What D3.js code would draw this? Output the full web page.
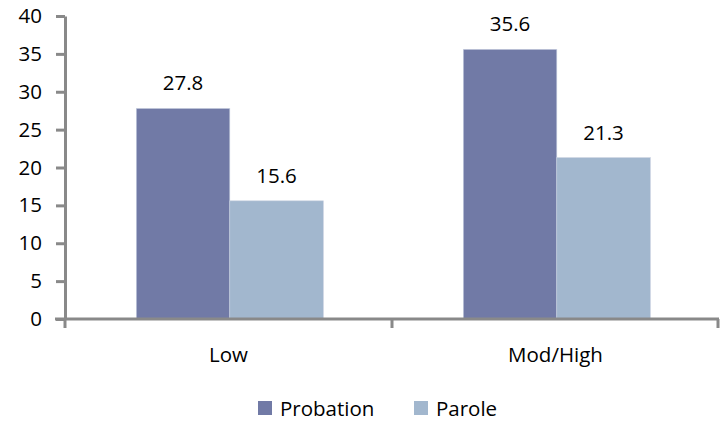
<!DOCTYPE html>
<html>
<head>
<meta charset="utf-8">
<script src="https://cdn.jsdelivr.net/npm/d3@7"></script>
<style>
	body { margin: 0; background: #fff; }
	text { font-family: "Open Sans", sans-serif; fill: #000; }
</style>
</head>
<body>
<div id="chart"></div>
<script>
var categories = ["Low", "Mod/High"];
var seriesNames = ["Probation", "Parole"];
var probation = [27.8, 35.6];
var parole = [15.6, 21.3];
var yTicks = [0, 5, 10, 15, 20, 25, 30, 35, 40];

var colors = { Probation: "#717aa6", Parole: "#a2b7ce" };
var width = 722, height = 421;
var margin = { left: 65, right: 3, top: 16, bottom: 101 };
var fontSize = "20.5px";

var svg = d3.select("#chart").append("svg")
	.attr("width", width)
	.attr("height", height);

var rows = categories.map(function(c, i){
	return { cat: c, values: [
		{ name: "Probation", value: probation[i] },
		{ name: "Parole", value: parole[i] }
	] };
});

var x0 = d3.scaleBand()
	.domain(categories)
	.range([margin.left, width - margin.right]);

var bw = x0.bandwidth();
var x1 = d3.scaleBand()
	.domain(seriesNames)
	.range([bw * 0.218, bw * 0.79]);

var y = d3.scaleLinear()
	.domain([0, 40])
	.range([height - margin.bottom - 1, margin.top]);

// bars
var groups = svg.append("g")
		.selectAll("g")
		.data(rows)
	.enter().append("g")
		.attr("transform", function(d){ return "translate(" + x0(d.cat) + ",0)"; });

groups.selectAll("rect")
		.data(function(d){ return d.values; })
	.enter().append("rect")
		.attr("x", function(d){ return x1(d.name); })
		.attr("y", function(d){ return y(d.value); })
		.attr("width", x1.bandwidth())
		.attr("height", function(d){ return y(0) - y(d.value); })
		.style("fill", function(d){ return colors[d.name]; })
		.style("stroke", "#c8d0e0")
		.style("stroke-width", 0.6);

groups.selectAll("text.val")
		.data(function(d){ return d.values; })
	.enter().append("text")
		.attr("class", "val")
		.attr("x", function(d){ return x1(d.name) + x1.bandwidth() / 2; })
		.attr("y", function(d){ return y(d.value) - 18; })
		.attr("text-anchor", "middle")
		.style("font-size", fontSize)
		.text(function(d){ return d.value.toFixed(1); });

// y axis
var yAxis = svg.append("g")
	.attr("transform", "translate(" + margin.left + ",0)")
	.call(d3.axisLeft(y).tickValues(yTicks).tickSize(9).tickPadding(14).tickSizeOuter(0));

yAxis.select(".domain").attr("stroke", "#898989").attr("stroke-width", 3);
yAxis.selectAll(".tick line").attr("stroke", "#898989").attr("stroke-width", 3);
yAxis.selectAll(".tick text").style("font-size", fontSize).attr("font-family", null);

// x axis
var xAxis = svg.append("g")
	.attr("transform", "translate(0," + y(0) + ")");

xAxis.append("line")
	.attr("x1", margin.left - 10)
	.attr("x2", width - margin.right)
	.attr("stroke", "#898989")
	.attr("stroke-width", 3);

xAxis.selectAll("line.tk")
		.data(categories.concat(["end"]))
	.enter().append("line")
		.attr("class", "tk")
		.attr("x1", function(d){ return d === "end" ? width - margin.right - 1 : x0(d); })
		.attr("x2", function(d){ return d === "end" ? width - margin.right - 1 : x0(d); })
		.attr("y1", 0)
		.attr("y2", 9)
		.attr("stroke", "#898989")
		.attr("stroke-width", 3);

xAxis.selectAll("text")
		.data(categories)
	.enter().append("text")
		.attr("x", function(d){ return x0(d) + bw / 2; })
		.attr("y", 43)
		.attr("text-anchor", "middle")
		.style("font-size", fontSize)
		.text(function(d){ return d; });

// legend
var legend = svg.append("g")
	.attr("transform", "translate(258,401)");

var items = legend.selectAll("g")
		.data(seriesNames)
	.enter().append("g")
		.attr("transform", function(d, i){ return "translate(" + (i * 156) + ",0)"; });

items.append("rect")
	.attr("width", 14)
	.attr("height", 14)
	.style("fill", function(d){ return colors[d]; });

items.append("text")
	.attr("x", 22)
	.attr("y", 15)
	.style("font-size", fontSize)
	.text(function(d){ return d; });
</script>
</body>
</html>
